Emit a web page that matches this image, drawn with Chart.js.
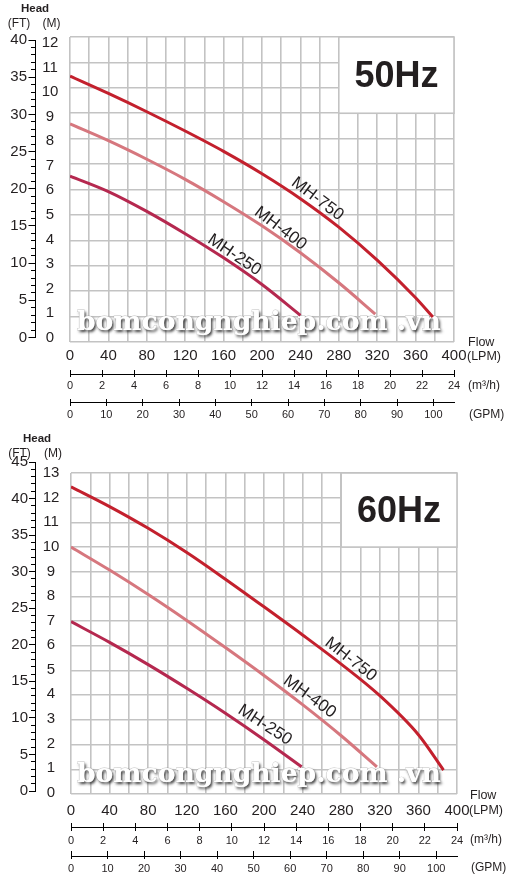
<!DOCTYPE html>
<html lang="vi">
<head>
<meta charset="utf-8">
<title>MH pump curves 50Hz / 60Hz</title>
<script src="https://cdn.jsdelivr.net/npm/chart.js@4.4.1/dist/chart.umd.min.js"></script>
<style>
  html, body { margin: 0; padding: 0; background: #ffffff; }
  #page { position: relative; width: 511px; height: 879px; overflow: hidden; background:#fff; }
  canvas { position: absolute; left: 0; display: block; }
</style>
</head>
<body>
<div id="page">
  <canvas id="chart50" width="511" height="430" style="top:0"></canvas>
  <canvas id="chart60" width="511" height="449" style="top:430px"></canvas>
</div>
<script>
// ---------------- data ----------------
const seriesNames = ['MH-750', 'MH-400', 'MH-250'];
const lpmGrid  = [0,20,40,60,80,100,120,140,160,180,200,220,240,260,280,300,320,340,360,380,400];
const lpmTicks = [0,40,80,120,160,200,240,280,320,360,400];
const m3hTicks = [0,2,4,6,8,10,12,14,16,18,20,22,24];
const gpmTicks = [0,10,20,30,40,50,60,70,80,90,100];
const headMTicks50  = [0,1,2,3,4,5,6,7,8,9,10,11,12];
const headMTicks60  = [0,1,2,3,4,5,6,7,8,9,10,11,12,13];
const headFtTicks50 = [0,5,10,15,20,25,30,35,40];
const headFtTicks60 = [0,5,10,15,20,25,30,35,40,45];
const hzLabels = ['50Hz', '60Hz'];
const watermarkText = 'bomcongnghiep.com .vn';

// 50 Hz curves (flow LPM, head M)
const flow50_750 = [0,40,80,120,160,200,240,280,320,360,378];
const head50_750 = [10.46,9.78,9.06,8.30,7.50,6.62,5.64,4.52,3.22,1.74,0.98];
const flow50_400 = [0,40,80,120,160,200,240,280,318];
const head50_400 = [8.58,7.92,7.19,6.40,5.52,4.57,3.51,2.33,1.1];
const flow50_250 = [0,40,80,120,160,200,240];
const head50_250 = [6.53,5.92,5.14,4.26,3.31,2.26,1.05];

// 60 Hz curves
const flow60_750 = [0,40,80,120,160,200,240,280,320,360,386];
const head60_750 = [12.44,11.64,10.76,9.78,8.70,7.58,6.44,5.26,3.98,2.40,0.97];
const flow60_400 = [0,40,80,120,160,200,240,280,317];
const head60_400 = [10.0,9.07,8.08,7.03,5.93,4.80,3.62,2.36,1.1];
const flow60_250 = [0,40,80,120,160,200,239];
const head60_250 = [6.98,6.14,5.24,4.28,3.27,2.20,1.1];

const LPM_PER_GPM = 3.785;
const FLOW_MAX_LPM = 400;
const FLOW_MAX_M3H = 24;

// ---------------- styling ----------------
const FONT = "'Liberation Sans', Arial, Helvetica, sans-serif";
const INK = '#231f20';
const GRID = '#c3c3c3';
const CURVE_COLORS = ['#c3202d', '#d6777e', '#b5284f'];

function ticksFrom(arr) { return (scale) => { scale.ticks = arr.map(v => ({ value: v })); }; }
function fixW(w) { return (scale) => { scale.width = w; }; }
function fixH(h) { return (scale) => { scale.height = h; }; }

function makeStretch(map) {
  return {
    id: 'stretchAxes',
    afterLayout(chart) {
      const ca = chart.chartArea;
      Object.keys(map).forEach(id => {
        const s = chart.scales[id];
        if (!s) return;
        s.top = ca.top + map[id][0];
        s.bottom = ca.bottom + map[id][1];
        s.height = s.bottom - s.top;
        s.configure();
      });
    }
  };
}

function makeDecor(cfg) {
  return {
    id: 'decor',
    beforeDatasetsDraw(chart) {
      const { ctx, chartArea: ca, scales: { x, y } } = chart;
      const b = cfg.hzBox;
      const x0 = x.getPixelForValue(b.x0), x1 = x.getPixelForValue(b.x1);
      const y0 = y.getPixelForValue(b.y1), y1 = y.getPixelForValue(b.y0);
      ctx.save();
      ctx.fillStyle = '#ffffff';
      ctx.fillRect(x0, y0, x1 - x0, y1 - y0);
      ctx.strokeStyle = GRID; ctx.lineWidth = 1.6;
      ctx.strokeRect(x0, y0, x1 - x0, y1 - y0);
      ctx.fillStyle = INK;
      ctx.font = 'bold 36px ' + FONT;
      ctx.textAlign = 'center'; ctx.textBaseline = 'alphabetic';
      ctx.fillText(cfg.hzText, (x0 + x1) / 2, (y0 + y1) / 2 + 12);
      ctx.restore();

      // watermark
      ctx.save();
      ctx.font = "bold 27px 'DejaVu Serif', serif";
      const w = ctx.measureText(watermarkText).width;
      const size = 27 * cfg.wm.width / w;
      ctx.font = "bold " + size.toFixed(2) + "px 'DejaVu Serif', serif";
      ctx.textAlign = 'left'; ctx.textBaseline = 'alphabetic';
      const wx = ca.left + cfg.wm.dx, wy = ca.bottom - cfg.wm.dy;
      ctx.shadowColor = 'rgba(0,0,0,0.8)'; ctx.shadowBlur = 3;
      ctx.shadowOffsetX = 1.5; ctx.shadowOffsetY = 1.5;
      ctx.fillStyle = '#ffffff';
      ctx.fillText(watermarkText, wx, wy);
      ctx.shadowColor = 'rgba(0,0,0,0)';
      ctx.strokeStyle = 'rgba(150,150,150,0.55)'; ctx.lineWidth = 0.8;
      ctx.strokeText(watermarkText, wx, wy);
      ctx.fillText(watermarkText, wx, wy);
      ctx.restore();
    },
    afterDatasetsDraw(chart) {
      const { ctx, scales: { x, y } } = chart;
      ctx.save();
      ctx.fillStyle = INK;
      ctx.font = '17px ' + FONT;
      ctx.textAlign = 'center'; ctx.textBaseline = 'middle';
      cfg.curveLabels.forEach((c, i) => {
        ctx.save();
        ctx.translate(x.getPixelForValue(c.x), y.getPixelForValue(c.y));
        ctx.rotate(c.angle * Math.PI / 180);
        ctx.fillText(seriesNames[i], 0, 0);
        ctx.restore();
      });
      ctx.restore();
    },
    afterDraw(chart) {
      const { ctx, chartArea: ca } = chart;
      const h = cfg.head;
      ctx.save();
      ctx.fillStyle = INK;
      ctx.textBaseline = 'middle';
      ctx.textAlign = 'center';
      ctx.font = 'bold 11.5px ' + FONT;
      ctx.fillText('Head', h.x, h.y);
      ctx.font = '12px ' + FONT;
      ctx.fillText('(FT)', h.ftX, h.y2);
      ctx.fillText('(M)', h.mX, h.y2);
      const u = cfg.units;
      ctx.textAlign = 'left';
      const ux = ca.right + u.dx;
      ctx.font = '12.5px ' + FONT;
      ctx.fillText('Flow', ux + 1, u.flowY);
      ctx.fillText('(LPM)', ux, u.lpmY);
      ctx.font = '12px ' + FONT;
      ctx.fillText('(m\u00b3/h)', ux + 1, u.m3Y);
      ctx.fillText('(GPM)', ux + 2, u.gpmY);
      ctx.restore();
    }
  };
}

function buildChart(id, cfg) {
  const L = cfg.layout;
  const datasets = cfg.series.map((s, i) => ({
    label: seriesNames[i],
    data: s[0].map((f, j) => ({ x: f, y: s[1][j] })),
    borderColor: CURVE_COLORS[i],
    borderWidth: 3,
    pointRadius: 0,
    pointHoverRadius: 0,
    fill: false,
    cubicInterpolationMode: 'monotone'
  }));
  const blackTicks = (len) => ({ drawOnChartArea: false, tickLength: len, color: '#000', lineWidth: 1 });
  return new Chart(document.getElementById(id), {
    type: 'line',
    data: { datasets },
    options: {
      responsive: false,
      animation: false,
      devicePixelRatio: 1,
      events: [],
      layout: { padding: { left: 0, top: L.top, right: L.right, bottom: L.bottom } },
      plugins: { legend: { display: false }, tooltip: { enabled: false } },
      scales: {
        x: {
          type: 'linear', position: 'bottom', weight: 0, min: 0, max: FLOW_MAX_LPM,
          afterBuildTicks: ticksFrom(lpmGrid),
          grid: { color: GRID, lineWidth: 1.6, drawTicks: false },
          border: { display: false },
          ticks: { autoSkip: false, maxRotation: 0, padding: L.lpmPad, color: INK,
                   font: { family: FONT, size: 15 },
                   callback: (v) => lpmTicks.includes(v) ? String(v) : '' },
          afterFit: fixH(L.lpmH)
        },
        m3Up: {
          type: 'linear', position: 'bottom', weight: 1, min: 0, max: FLOW_MAX_M3H,
          afterBuildTicks: ticksFrom(m3hTicks),
          grid: blackTicks(L.m3Up), border: { display: false },
          ticks: { display: false }, afterFit: fixH(L.m3Up)
        },
        m3: {
          type: 'linear', position: 'bottom', weight: 2, min: 0, max: FLOW_MAX_M3H,
          afterBuildTicks: ticksFrom(m3hTicks),
          grid: blackTicks(L.m3Tick), border: { display: true, color: '#000', width: 1 },
          ticks: { autoSkip: false, maxRotation: 0, padding: L.m3Pad, color: INK,
                   font: { family: FONT, size: 11 } },
          afterFit: fixH(L.m3H)
        },
        gpmUp: {
          type: 'linear', position: 'bottom', weight: 3, min: 0, max: FLOW_MAX_LPM / LPM_PER_GPM,
          afterBuildTicks: ticksFrom(gpmTicks),
          grid: blackTicks(L.gpmUp), border: { display: false },
          ticks: { display: false }, afterFit: fixH(L.gpmUp)
        },
        gpm: {
          type: 'linear', position: 'bottom', weight: 4, min: 0, max: FLOW_MAX_LPM / LPM_PER_GPM,
          afterBuildTicks: ticksFrom(gpmTicks),
          grid: blackTicks(L.gpmTick), border: { display: true, color: '#000', width: 1 },
          ticks: { autoSkip: false, maxRotation: 0, padding: L.gpmPad, color: INK,
                   font: { family: FONT, size: 11 } },
          afterFit: fixH(L.gpmH)
        },
        y: {
          type: 'linear', position: 'left', weight: 0, min: 0, max: cfg.mMax,
          afterBuildTicks: ticksFrom(cfg.mTicks),
          grid: { color: GRID, lineWidth: 1.6, drawTicks: false },
          border: { display: false },
          ticks: { display: false },
          afterFit: fixW(0)
        },
        mLab: {
          type: 'linear', position: 'left', weight: 1, min: 0, max: cfg.mMax,
          afterBuildTicks: ticksFrom(cfg.mTicks),
          grid: { display: false, drawTicks: false },
          border: { display: false },
          ticks: { crossAlign: 'center', padding: L.mPad, color: INK, font: { family: FONT, size: 15 } },
          afterFit: fixW(L.mW)
        },
        ftMinor: {
          type: 'linear', position: 'left', weight: 2, min: 0, max: cfg.ftMax,
          ticks: { display: false, stepSize: 1 },
          grid: blackTicks(4),
          border: { display: true, color: '#000', width: 1 },
          afterFit: fixW(4)
        },
        ftMajor: {
          type: 'linear', position: 'left', weight: 3, min: 0, max: cfg.ftMax,
          afterBuildTicks: ticksFrom(cfg.ftTicks),
          grid: blackTicks(L.ftMajTick),
          border: { display: false },
          ticks: { padding: L.ftPad, color: INK, font: { family: FONT, size: 15 } },
          afterFit: fixW(L.ftW)
        }
      }
    },
    plugins: [makeStretch(cfg.stretch), makeDecor(cfg)]
  });
}

buildChart('chart50', {
  series: [[flow50_750, head50_750], [flow50_400, head50_400], [flow50_250, head50_250]],
  mMax: 12, mTicks: headMTicks50, ftMax: 40, ftTicks: headFtTicks50,
  hzText: hzLabels[0],
  hzBox: { x0: 280, x1: 400, y0: 9, y1: 12 },
  curveLabels: [ { x: 257.7, y: 5.63, angle: 37 }, { x: 219.3, y: 4.47, angle: 37 }, { x: 171.3, y: 3.42, angle: 34 } ],
  wm: { width: 364, dx: 7, dy: 12 },
  head: { x: 35, y: 9, ftX: 19, mX: 51.5, y2: 24 },
  units: { dx: 13, flowY: 343, lpmY: 357, m3Y: 386, gpmY: 415 },
  stretch: { mLab: [6, -4.3], ftMinor: [3, -4.5], ftMajor: [3, -4.5] },
  layout: { top: 37, right: 57, bottom: 6,
            lpmH: 28, lpmPad: 5, m3Up: 4, m3H: 25, m3Tick: 3, m3Pad: 2.4,
            gpmUp: 3, gpmH: 22, gpmTick: 4, gpmPad: 2.4,
            mW: 35, mPad: 11.65, ftW: 31, ftMajTick: 2.5, ftPad: 1.5 }
});

buildChart('chart60', {
  series: [[flow60_750, head60_750], [flow60_400, head60_400], [flow60_250, head60_250]],
  mMax: 13, mTicks: headMTicks60, ftMax: 45, ftTicks: headFtTicks60,
  hzText: hzLabels[1],
  hzBox: { x0: 280, x1: 400, y0: 10, y1: 13 },
  curveLabels: [ { x: 289.8, y: 5.45, angle: 38 }, { x: 247.4, y: 3.94, angle: 36 }, { x: 201, y: 2.79, angle: 33 } ],
  wm: { width: 364, dx: 6, dy: 12 },
  head: { x: 37, y: 9, ftX: 19.5, mX: 53, y2: 24 },
  units: { dx: 12, flowY: 366, lpmY: 381, m3Y: 410, gpmY: 438 },
  stretch: { mLab: [0, -1.3], ftMinor: [-11, -3], ftMajor: [-11, -3] },
  layout: { top: 43, right: 54, bottom: 3,
            lpmH: 29, lpmPad: 7.7, m3Up: 4, m3H: 24, m3Tick: 4, m3Pad: 3,
            gpmUp: 5, gpmH: 20, gpmTick: 3, gpmPad: 3.4,
            mW: 36, mPad: 11.65, ftW: 31, ftMajTick: 2, ftPad: 1 }
});
</script>
</body>
</html>
